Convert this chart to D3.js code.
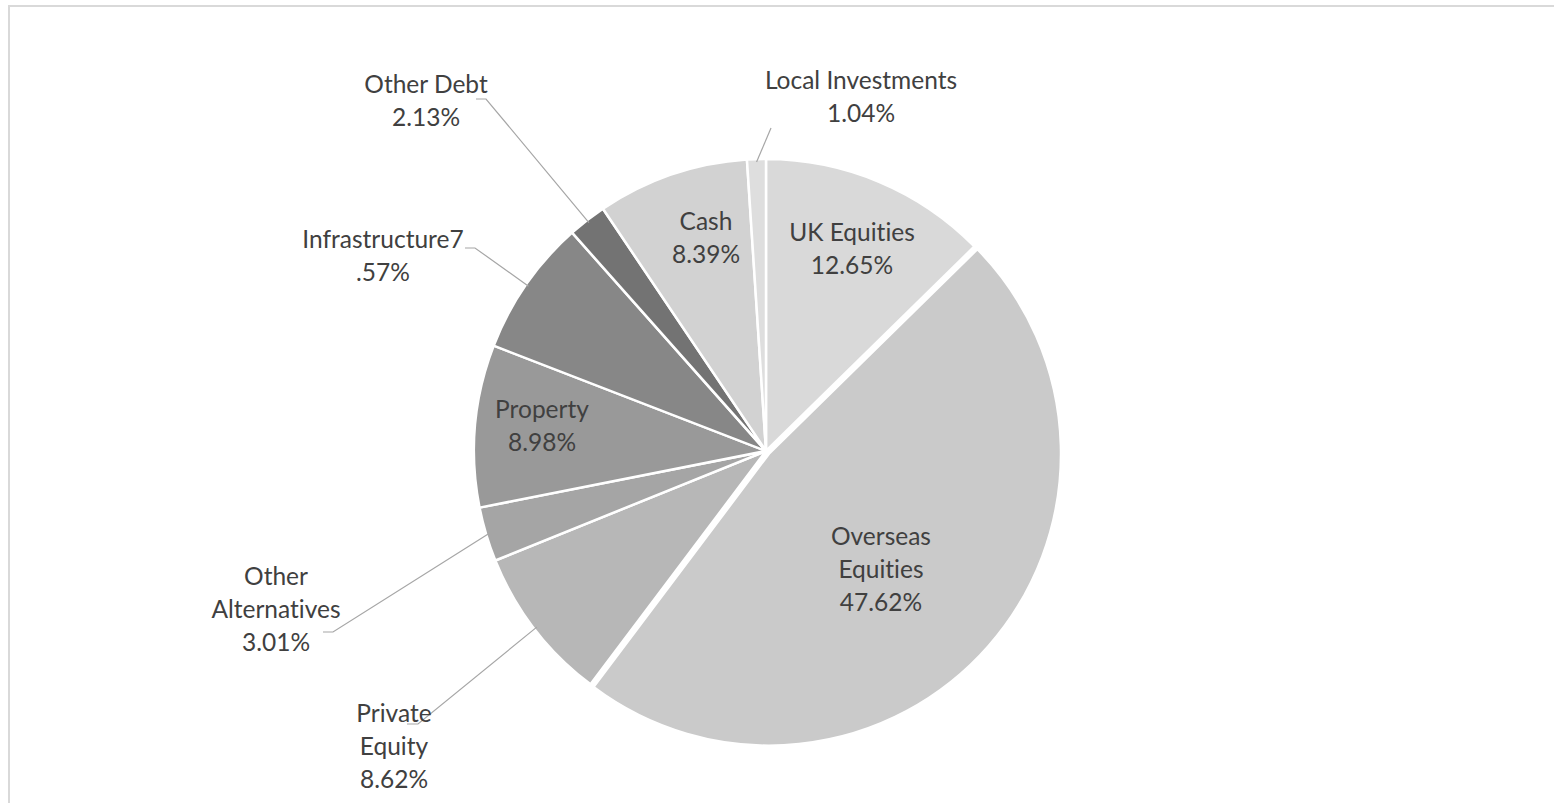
<!DOCTYPE html>
<html>
<head>
<meta charset="utf-8">
<script src="https://cdn.jsdelivr.net/npm/d3@7"></script>
<style>
  html, body { margin: 0; padding: 0; background: #fff; }
  svg { display: block; }
  text { font-variant-ligatures: none; font-feature-settings: "liga" 0, "clig" 0; }
</style>
</head>
<body>
<div id="chart"></div>
<script>
const width = 1554;
const height = 803;

// Asset allocation (% of fund), clockwise from 12 o'clock
const categories = ["UK Equities", "Overseas Equities", "Private Equity", "Other Alternatives",
  "Property", "Infrastructure", "Other Debt", "Cash", "Local Investments"];
const shares = [12.65, 47.62, 8.62, 3.01, 8.98, 7.57, 2.13, 8.39, 1.04];
const shades = ["#d9d9d9", "#cacaca", "#b7b7b7", "#a5a5a5", "#999999", "#878787", "#737373", "#d2d2d2", "#dedede"];

// label placement: centre x, first baseline, where the text wraps, optional leader elbow/end
const labelLayout = {
  "UK Equities":        { x: 852, y: 241, cuts: [11] },
  "Overseas Equities":  { x: 881, y: 545, cuts: [8, 17] },
  "Private Equity":     { x: 394, y: 722, cuts: [7, 14], leader: [[418, 724], [407, 724]] },
  "Other Alternatives": { x: 276, y: 585, cuts: [5, 18], leader: [[333, 632], [323, 632]] },
  "Property":           { x: 542, y: 418, cuts: [8] },
  "Infrastructure":     { x: 383, y: 248, cuts: [15], leader: [[475, 248], [465, 248]] },
  "Other Debt":         { x: 426, y: 93,  cuts: [10], leader: [[486, 99], [476, 99]] },
  "Cash":               { x: 706, y: 230, cuts: [4] },
  "Local Investments":  { x: 861, y: 89,  cuts: [17], leader: [[771, 128]] }
};

const cx = 766, cy = 451, radius = 292;
const explodeName = "Overseas Equities", explodeBy = 4;
const lineHeight = 33;

const svg = d3.select("#chart").append("svg")
  .attr("width", width)
  .attr("height", height)
  .style("font-family", "Lato, 'Open Sans', sans-serif");

// chart frame (only top and left edges visible)
svg.append("path")
  .attr("d", `M9,${height} V6 H${width}`)
  .attr("fill", "none")
  .attr("stroke", "#d9d9d9")
  .attr("stroke-width", 2);

const data = categories.map((name, i) => ({ name, value: shares[i], color: shades[i] }));

const pie = d3.pie().value(d => d.value).sort(null);
const arcs = pie(data);
const arc = d3.arc().innerRadius(0).outerRadius(radius);

const g = svg.append("g").attr("transform", `translate(${cx},${cy})`);

g.selectAll("path.slice")
  .data(arcs)
  .join("path")
  .attr("class", "slice")
  .attr("d", arc)
  .attr("fill", d => d.data.color)
  .attr("stroke", "#fff")
  .attr("stroke-width", 2.5)
  .attr("stroke-linejoin", "round")
  .attr("transform", d => {
    if (d.data.name !== explodeName) return null;
    const a = (d.startAngle + d.endAngle) / 2;
    return `translate(${Math.sin(a) * explodeBy},${-Math.cos(a) * explodeBy})`;
  });

const fmt = v => v.toFixed(2) + "%";

// leader lines for labels that sit outside the pie
arcs.forEach(d => {
  const lay = labelLayout[d.data.name];
  if (!lay.leader) return;
  const a = (d.startAngle + d.endAngle) / 2;
  const start = [cx + Math.sin(a) * radius * 0.99, cy - Math.cos(a) * radius * 0.99];
  svg.append("path")
    .attr("d", d3.line()([start, ...lay.leader]))
    .attr("fill", "none")
    .attr("stroke", "#a6a6a6")
    .attr("stroke-width", 1.2);
});

// labels
arcs.forEach(d => {
  const name = d.data.name;
  const lay = labelLayout[name];
  const sep = name === "Infrastructure" ? "" : " ";
  const full = name + sep + fmt(d.data.value);
  const lines = [];
  let prev = 0;
  lay.cuts.concat([full.length]).forEach(c => {
    lines.push(full.slice(prev, c).trim());
    prev = c;
  });
  const t = svg.append("text")
    .attr("x", lay.x)
    .attr("y", lay.y)
    .attr("text-anchor", "middle")
    .attr("fill", "#404040")
    .style("font-size", "24.5px");
  lines.filter(l => l.length).forEach((l, i) => {
    t.append("tspan")
      .attr("x", lay.x)
      .attr("y", lay.y + i * lineHeight)
      .text(l);
  });
});
</script>
</body>
</html>
